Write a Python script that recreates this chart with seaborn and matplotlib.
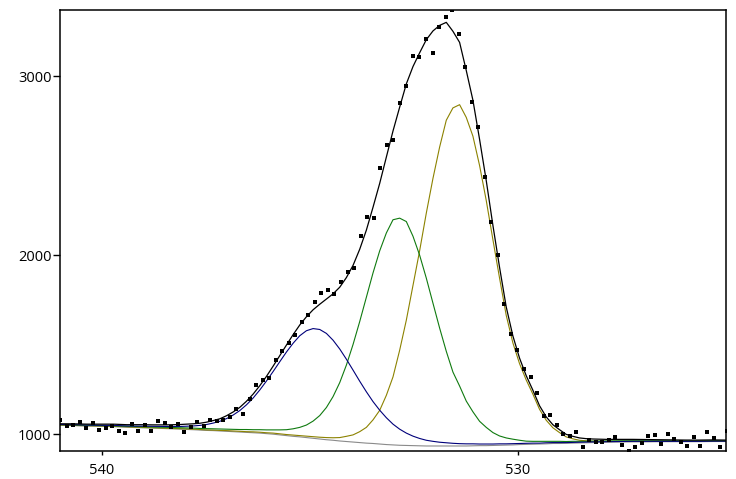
import numpy as np
import pandas as pd
import matplotlib
matplotlib.use("Agg")
import matplotlib.pyplot as plt
import seaborn as sns

# measured counts (black dots), one every ~0.157 eV from 541 eV down
counts = [1078, 1046, 1050, 1069, 1035, 1065, 1022, 1032, 1046, 1017,
          1009, 1056, 1017, 1050, 1018, 1076, 1065, 1040, 1055, 1013,
          1038, 1069, 1046, 1078, 1074, 1078, 1097, 1138, 1115, 1194,
          1274, 1302, 1315, 1417, 1465, 1510, 1553, 1627, 1665, 1739,
          1789, 1804, 1782, 1851, 1907, 1929, 2106, 2214, 2208, 2488,
          2615, 2646, 2851, 2946, 3114, 3106, 3208, 3130, 3274, 3330,
          3370, 3235, 3052, 2857, 2717, 2438, 2187, 2000, 1726, 1562,
          1470, 1363, 1320, 1231, 1103, 1108, 1052, 1000, 990, 1011,
          928, 968, 957, 957, 966, 985, 941, 907, 929, 951,
          989, 994, 946, 1002, 971, 955, 934, 985, 935, 1013,
          979, 929, 1018]

# fitted curves: 0.32 eV steps in the tails, 0.16 eV steps under the peaks
background = [1050, 1048, 1046, 1044, 1042, 1039, 1036, 1034, 1031, 1028,
              1025, 1023, 1021, 1020, 1018, 1016, 1014, 1012, 1010, 1008,
              1006, 1003, 1000, 996, 992, 988, 985, 981, 977, 973,
              969, 966, 962, 959, 956, 953, 950, 948, 945, 942,
              940, 938, 937, 936, 935, 934, 934, 934, 934, 934,
              934, 934, 935, 936, 936, 937, 938, 939, 940, 942,
              943, 944, 945, 946, 948, 948, 949, 950, 951, 952,
              953, 955, 956, 957, 957, 958, 958, 958, 958, 959,
              959]
peak_blue = [1054, 1053, 1051, 1050, 1049, 1046, 1045, 1044, 1043, 1043,
             1046, 1049, 1054, 1062, 1072, 1087, 1107, 1132, 1164, 1202,
             1247, 1297, 1350, 1405, 1459, 1508, 1550, 1578, 1590, 1585,
             1563, 1525, 1476, 1419, 1358, 1296, 1237, 1182, 1134, 1092,
             1056, 1028, 1006, 989, 976, 966, 960, 955, 952, 949,
             947, 946, 946, 945, 945, 945, 946, 946, 947, 948,
             949, 950, 950, 952, 953, 953, 953, 954, 955, 956,
             957, 958, 959, 960, 960, 960, 960, 960, 960, 961,
             961]
peak_green = [1053, 1052, 1050, 1048, 1047, 1044, 1042, 1040, 1038, 1036,
              1034, 1032, 1031, 1030, 1029, 1028, 1027, 1026, 1026, 1025,
              1025, 1024, 1024, 1024, 1025, 1030, 1038, 1051, 1073, 1104,
              1149, 1210, 1288, 1386, 1501, 1629, 1765, 1901, 2024, 2124,
              2198, 2207, 2188, 2106, 2000, 1872, 1732, 1593, 1463, 1347,
              1269, 1185, 1125, 1072, 1038, 1009, 990, 979, 972, 966,
              961, 960, 960, 960, 960, 960, 959, 960, 960, 960,
              961, 962, 963, 963, 963, 963, 963, 962, 962, 963,
              963]
peak_olive = [1051, 1049, 1047, 1046, 1044, 1041, 1038, 1036, 1033, 1031,
              1028, 1026, 1024, 1023, 1021, 1020, 1018, 1016, 1014, 1013,
              1011, 1008, 1006, 1002, 998, 995, 992, 989, 986, 983,
              981, 980, 981, 988, 996, 1014, 1038, 1080, 1133, 1217,
              1320, 1469, 1637, 1831, 2025, 2235, 2429, 2604, 2754, 2823,
              2841, 2770, 2665, 2501, 2306, 2087, 1872, 1664, 1510, 1394,
              1303, 1224, 1139, 1078, 1036, 1009, 985, 974, 966, 963,
              961, 961, 961, 962, 961, 962, 961, 961, 961, 962,
              961]
envelope = [1058, 1058, 1056, 1056, 1056, 1053, 1053, 1052, 1052, 1054,
            1058, 1061, 1067, 1076, 1086, 1103, 1124, 1150, 1184, 1224,
            1271, 1323, 1380, 1439, 1498, 1556, 1610, 1656, 1695, 1726,
            1755, 1784, 1821, 1875, 1943, 2033, 2140, 2268, 2401, 2548,
            2694, 2827, 2957, 3054, 3131, 3204, 3253, 3284, 3301, 3251,
            3189, 3032, 2866, 2647, 2417, 2167, 1932, 1711, 1549, 1425,
            1327, 1246, 1159, 1097, 1053, 1025, 999, 988, 979, 975,
            973, 971, 971, 971, 970, 969, 968, 967, 967, 968,
            967]

dot_energy = 541.0 - 0.157 * np.arange(len(counts))
fit_energy = np.concatenate([541.0 - 0.32 * np.arange(10),
                             537.8 - 0.16 * np.arange(60),
                             528.2 - 0.32 * np.arange(11)])

curves = pd.DataFrame({
    'energy': fit_energy,
    'background': background,
    'olive': peak_olive,
    'green': peak_green,
    'blue': peak_blue,
    'envelope': envelope,
}).melt(id_vars='energy', var_name='curve', value_name='cps')
dots = pd.DataFrame({'energy': dot_energy, 'cps': counts})

sns.set_theme(style="ticks")
plt.rcParams['font.family'] = ['Open Sans', 'DejaVu Sans']

fig = plt.figure(figsize=(7.36, 4.79), dpi=100)
ax = fig.add_axes([60 / 736, 1 - 451 / 479, 666 / 736, 441 / 479])

styles = [('background', '#8a8a8a', 0.8),
          ('olive', '#8c8200', 0.8),
          ('green', '#0f7a0f', 0.8),
          ('blue', '#00007a', 0.8),
          ('envelope', '#000000', 0.9)]
for name, color, lw in styles:
    sub = curves[curves['curve'] == name]
    sns.lineplot(data=sub, x='energy', y='cps', ax=ax, color=color, lw=lw,
                 sort=False, estimator=None)

sns.scatterplot(data=dots, x='energy', y='cps', ax=ax, marker='s', s=5.5,
                color='black', linewidth=0, zorder=5)

ax.set_xlim(541, 525)
ax.set_ylim(906, 3370)
ax.set_xticks([540, 530])
ax.set_yticks([1000, 2000, 3000])
ax.set_xlabel('')
ax.set_ylabel('')
ax.tick_params(axis='both', direction='out', width=1, colors='black', labelsize=10.5)
ax.tick_params(axis='x', length=3, pad=6)
ax.tick_params(axis='y', length=5, pad=1)
for s in ax.spines.values():
    s.set_visible(True)
    s.set_color('black')
    s.set_linewidth(1.1)

fig.savefig('out.png', dpi=100)
